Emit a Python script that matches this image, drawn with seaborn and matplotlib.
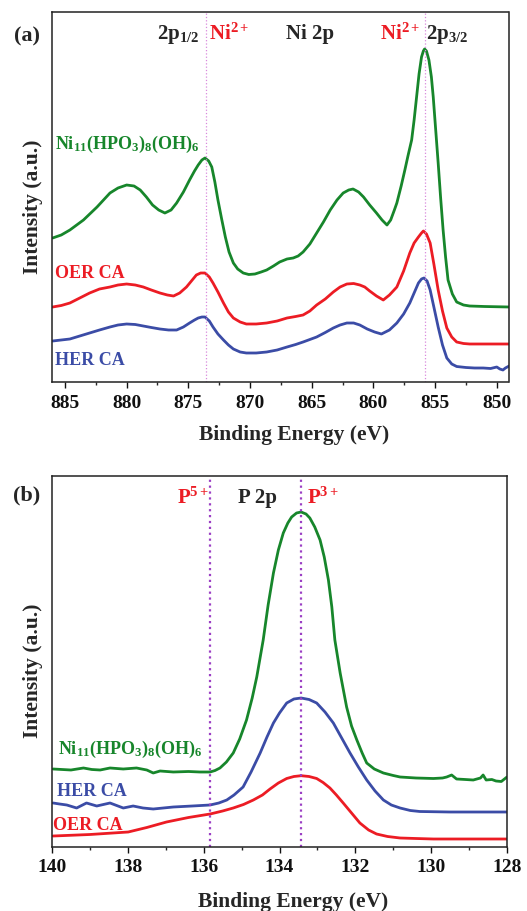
import matplotlib
matplotlib.use("Agg")
import matplotlib.pyplot as plt
import seaborn as sns
import numpy as np
from matplotlib.ticker import MultipleLocator

# ---- Ni 2p panel (a): binding energy (eV) and intensity (a.u.)
ni_green_e = [886.0, 885.3, 884.6, 883.5, 882.4, 881.35, 880.7, 880.0, 879.4, 878.9,
              878.4, 877.9, 877.4, 876.9, 876.4, 875.95, 875.4, 874.9, 874.5, 874.2,
              873.9, 873.65, 873.35, 873.1, 872.85, 872.6, 872.3, 872.0, 871.7, 871.35,
              871.0, 870.55, 870.1, 869.6, 869.1, 868.65, 868.1, 867.6, 867.0, 866.5,
              866.1, 865.7, 865.15, 864.6, 864.05, 863.5, 862.95, 862.45, 862.0, 861.65,
              861.2, 860.8, 860.3, 859.75, 859.3, 858.9, 858.6, 858.3, 858.1, 857.75,
              857.45, 857.2, 856.9, 856.7, 856.5, 856.3, 856.1, 855.95, 855.85, 855.7,
              855.5, 855.3, 855.15, 854.95, 854.75, 854.55, 854.35, 854.15, 853.95, 853.6,
              853.25, 852.7, 852.2, 851.0, 849.0]
ni_green_i = [144, 147, 152, 162, 175, 189, 194, 197, 196, 192,
              185, 177, 172, 169, 172, 179, 190, 202, 211, 217,
              222, 224, 221, 215, 200, 182, 163, 145, 130, 119,
              113, 109, 107.5, 108, 110, 112, 116, 120, 123, 124,
              126, 130, 138, 149, 160, 172, 182, 189, 192, 193,
              190, 185, 177, 169, 162, 157, 162, 172, 179, 196,
              212, 226, 242, 262, 285, 308, 325, 331, 333, 331,
              322, 305, 285, 252, 219, 184, 152, 125, 102, 88,
              80, 77, 76, 75.5, 75]

ni_red_e = [886.0, 885.3, 884.6, 883.8, 883.0, 882.2, 881.35, 880.7, 880.0, 879.3,
            878.65, 878.0, 877.3, 876.7, 876.2, 875.7, 875.15, 874.75, 874.35, 874.0,
            873.65, 873.3, 873.0, 872.6, 872.15, 871.75, 871.35, 870.8, 870.3, 869.5,
            868.65, 867.8, 867.0, 866.3, 865.7, 865.15, 864.6, 863.9, 863.25, 862.7,
            862.15, 861.6, 861.1, 860.7, 860.3, 859.75, 859.2, 858.7, 858.1, 857.55,
            857.05, 856.7, 856.35, 856.1, 855.95, 855.7, 855.4, 855.1, 854.75, 854.4,
            854.05, 853.65, 853.25, 852.7, 852.2, 851.0, 849.0]
ni_red_i = [75, 76.5, 79, 84, 89, 93, 95, 97, 98, 97,
            95, 92, 89, 87, 86, 89, 95, 101, 107, 109,
            109, 105, 99, 90, 79, 70, 64, 60, 58, 58,
            59, 61, 64, 65.5, 67, 71, 77, 83, 90, 95,
            98, 98.5, 97, 95, 91, 86, 82, 87, 95, 111,
            129, 139, 145, 149, 151, 148, 139, 118, 92, 71,
            54, 45, 40, 38.5, 38, 38, 38]

ni_blue_e = [886.0, 885.3, 884.6, 883.8, 883.0, 882.2, 881.35, 880.7, 880.0, 879.3,
             878.65, 878.0, 877.3, 876.6, 875.95, 875.4, 874.9, 874.5, 874.2, 873.9,
             873.65, 873.3, 873.0, 872.6, 872.15, 871.75, 871.35, 870.8, 870.3, 869.5,
             868.65, 867.8, 867.0, 866.3, 865.7, 865.15, 864.6, 863.9, 863.25, 862.7,
             862.15, 861.6, 861.1, 860.5, 859.9, 859.35, 858.7, 858.1, 857.55, 857.05,
             856.7, 856.35, 856.1, 855.9, 855.65, 855.4, 855.1, 854.75, 854.4, 854.05,
             853.65, 853.25, 852.5, 851.8, 851.1, 850.5, 850.0, 849.75, 849.5, 849.3, 849.0]
ni_blue_i = [41, 42, 43, 46, 49, 52, 55, 57, 58, 57.5,
             56, 54.5, 53, 52, 52, 55, 59, 62, 64, 65,
             65, 61, 55, 48, 42, 37, 33, 30, 29, 29,
             30, 32, 35, 37.5, 40, 42.5, 45, 49.5, 54, 57,
             59, 59, 57, 53, 50, 48, 52, 59, 68, 79,
             89, 99, 103, 104, 101, 92, 75, 55, 37, 24,
             18, 15.5, 14.5, 14, 14, 13.5, 15, 13, 12, 14, 16]

# ---- P 2p panel (b)
p_green_e = [139.97, 139.5, 139.17, 138.95, 138.73, 138.47, 138.12, 137.77, 137.5, 137.33,
             137.15, 136.8, 136.4, 136.1, 135.83, 135.7, 135.57, 135.4, 135.22, 135.05,
             134.87, 134.72, 134.6, 134.43, 134.3, 134.16, 134.03, 133.9, 133.78, 133.68,
             133.55, 133.43, 133.3, 133.2, 133.07, 132.93, 132.82, 132.71, 132.62, 132.54,
             132.4, 132.23, 132.1, 131.96, 131.82, 131.7, 131.5, 131.26, 131.0, 130.82,
             130.4, 129.94, 129.7, 129.59, 129.46, 129.33, 129.1, 128.89, 128.7, 128.63,
             128.55, 128.4, 128.29, 128.15, 128.0]
p_green_i = [78, 77, 79, 77.5, 77, 79, 78, 79, 77, 74,
             76, 75, 75.5, 75, 75, 76.5, 79, 85, 94, 108,
             127, 149, 170, 207, 242, 274, 297, 314, 324, 330,
             334, 335, 333, 329, 320, 307, 290, 267, 240, 207,
             174, 140, 121, 107, 94, 84, 78, 74, 71.5, 70,
             69, 68.5, 69, 70, 72, 68, 67.5, 67, 69, 72,
             67, 67.5, 66, 65.5, 70]

p_blue_e = [139.97, 139.8, 139.61, 139.35, 139.09, 138.82, 138.47, 138.12, 137.86, 137.6,
            137.33, 136.8, 136.3, 135.83, 135.6, 135.39, 135.2, 134.96, 134.75, 134.51,
            134.33, 134.16, 134.0, 133.81, 133.62, 133.43, 133.22, 133.02, 132.8, 132.58,
            132.36, 132.14, 131.92, 131.7, 131.48, 131.26, 131.05, 130.82, 130.55, 130.3,
            129.5, 128.0]
p_blue_i = [44, 43, 42, 39, 44, 41, 44, 39, 41, 39,
            38, 40, 41, 42, 44, 47, 52, 60, 75, 94,
            110, 124, 134, 144, 148, 149, 147.5, 144, 135, 124,
            109, 94, 80, 67, 56, 47, 42, 39, 36.5, 35.5,
            35, 35]

p_red_e = [139.97, 139.0, 137.99, 137.5, 136.98, 136.4, 135.83, 135.5, 135.22, 134.95,
           134.69, 134.45, 134.25, 134.03, 133.81, 133.62, 133.43, 133.22, 133.02, 132.85,
           132.67, 132.5, 132.32, 132.1, 131.88, 131.65, 131.44, 131.15, 130.82, 130.4,
           129.94, 128.0]
p_red_i = [11, 12.5, 15, 19.5, 25, 29.5, 33, 36, 39, 42.5,
           47, 52, 58, 64, 68.5, 70.5, 71.3, 70.5, 68.5, 64.5,
           59, 52, 44, 34, 24, 17, 13, 10.5, 9, 8.5,
           8, 8]

ni_peaks = [873.55, 855.85]
p_peaks = [135.83, 133.43]
ni_ticks = [885, 880, 875, 870, 865, 860, 855, 850]
p_ticks = [140, 138, 136, 134, 132, 130, 128]

GREEN = "#17862b"
RED = "#ec1c24"
BLUE = "#3b4ca6"

sns.set_style("white")
plt.rcParams["font.family"] = ["Liberation Serif", "DejaVu Serif"]
plt.rcParams["font.weight"] = "bold"
plt.rcParams["mathtext.fontset"] = "custom"
plt.rcParams["mathtext.rm"] = "Liberation Serif:bold"
plt.rcParams["mathtext.it"] = "Liberation Serif:bold"
plt.rcParams["mathtext.bf"] = "Liberation Serif:bold"
plt.rcParams["mathtext.default"] = "rm"

W, H = 527, 911
fig = plt.figure(figsize=(W / 100, H / 100), dpi=100)


def px_axes(l, t, r, b):
    return fig.add_axes([l / W, 1 - b / H, (r - l) / W, (b - t) / H])


def ftext(x, y, s, **kw):
    fig.text(x / W, 1 - y / H, s, **kw)


ax1 = px_axes(52, 12, 508.5, 382)
ax2 = px_axes(52, 476, 507, 847)

for e, i, c in [(ni_green_e, ni_green_i, GREEN), (ni_red_e, ni_red_i, RED), (ni_blue_e, ni_blue_i, BLUE)]:
    sns.lineplot(x=e, y=i, ax=ax1, color=c, lw=2.0, sort=False)
for e, i, c in [(p_green_e, p_green_i, GREEN), (p_blue_e, p_blue_i, BLUE), (p_red_e, p_red_i, RED)]:
    sns.lineplot(x=e, y=i, ax=ax2, color=c, lw=2.0, sort=False)

for ax in (ax1, ax2):
    for ln in ax.get_lines():
        ln.set_solid_joinstyle("round")
        ln.set_solid_capstyle("round")

for xv in ni_peaks:
    ax1.axvline(xv, color="#d889dc", lw=0.9, ls=":")
for xv in p_peaks:
    ax2.axvline(xv, color="#9b3fc4", lw=1.6, ls=":")

ax1.set_xlim(886.05, 849.05)
ax1.set_ylim(0, 370)
ax1.set_xticks(ni_ticks)
ax1.xaxis.set_minor_locator(MultipleLocator(2.5))
ax2.set_xlim(140, 128)
ax2.set_ylim(0, 371)
ax2.set_xticks(p_ticks)
ax2.xaxis.set_minor_locator(MultipleLocator(1))

for ax in (ax1, ax2):
    ax.set_yticks([])
    ax.set_xlabel("")
    ax.set_ylabel("")
    for sp in ax.spines.values():
        sp.set_linewidth(1.1)
        sp.set_color("#222222")
    ax.tick_params(axis="x", which="major", direction="out", length=4, width=1.0,
                   labelsize=14, pad=5, bottom=True, colors="#111111")
    ax.tick_params(axis="x", which="minor", direction="out", length=2.5, width=1.0,
                   bottom=True)
    for lab in ax.get_xticklabels():
        lab.set_fontweight("bold")

# panel (a) text
ftext(27, 36, "(a)", fontsize=16, va="center", ha="center")
ftext(157, 39.5, "2p$_{1/2}$", fontsize=15, va="baseline", ha="left")
ftext(209, 39.5, "Ni$^{2+}$", fontsize=15, va="baseline", ha="left", color=RED)
ftext(286, 39.5, "Ni 2p", fontsize=15, va="baseline", ha="left")
ftext(380, 39.5, "Ni$^{2+}$", fontsize=15, va="baseline", ha="left", color=RED)
ftext(426, 39.5, "2p$_{3/2}$", fontsize=15, va="baseline", ha="left")
ftext(55, 148.5, "Ni$_{11}$(HPO$_3$)$_8$(OH)$_6$", fontsize=13, va="baseline", ha="left", color=GREEN)
ftext(55, 278.5, "OER CA", fontsize=13, va="baseline", ha="left", color=RED)
ftext(55, 365, "HER CA", fontsize=13, va="baseline", ha="left", color=BLUE)
ftext(33, 207, "Intensity (a.u.)", fontsize=15.5, rotation=90, va="center", ha="center")
ftext(294, 440, "Binding Energy (eV)", fontsize=15.5, va="baseline", ha="center")

# panel (b) text
ftext(27, 495, "(b)", fontsize=16, va="center", ha="center")
ftext(177, 503.5, "P$^{5+}$", fontsize=15, va="baseline", ha="left", color=RED)
ftext(238, 503.5, "P 2p", fontsize=15, va="baseline", ha="left")
ftext(307, 503.5, "P$^{3+}$", fontsize=15, va="baseline", ha="left", color=RED)
ftext(58, 753.5, "Ni$_{11}$(HPO$_3$)$_8$(OH)$_6$", fontsize=13, va="baseline", ha="left", color=GREEN)
ftext(57, 796.5, "HER CA", fontsize=13, va="baseline", ha="left", color=BLUE)
ftext(53, 829.5, "OER CA", fontsize=13, va="baseline", ha="left", color=RED)
ftext(33, 671, "Intensity (a.u.)", fontsize=15.5, rotation=90, va="center", ha="center")
ftext(293, 906.5, "Binding Energy (eV)", fontsize=15.5, va="baseline", ha="center")

fig.savefig("out.png", dpi=100)
